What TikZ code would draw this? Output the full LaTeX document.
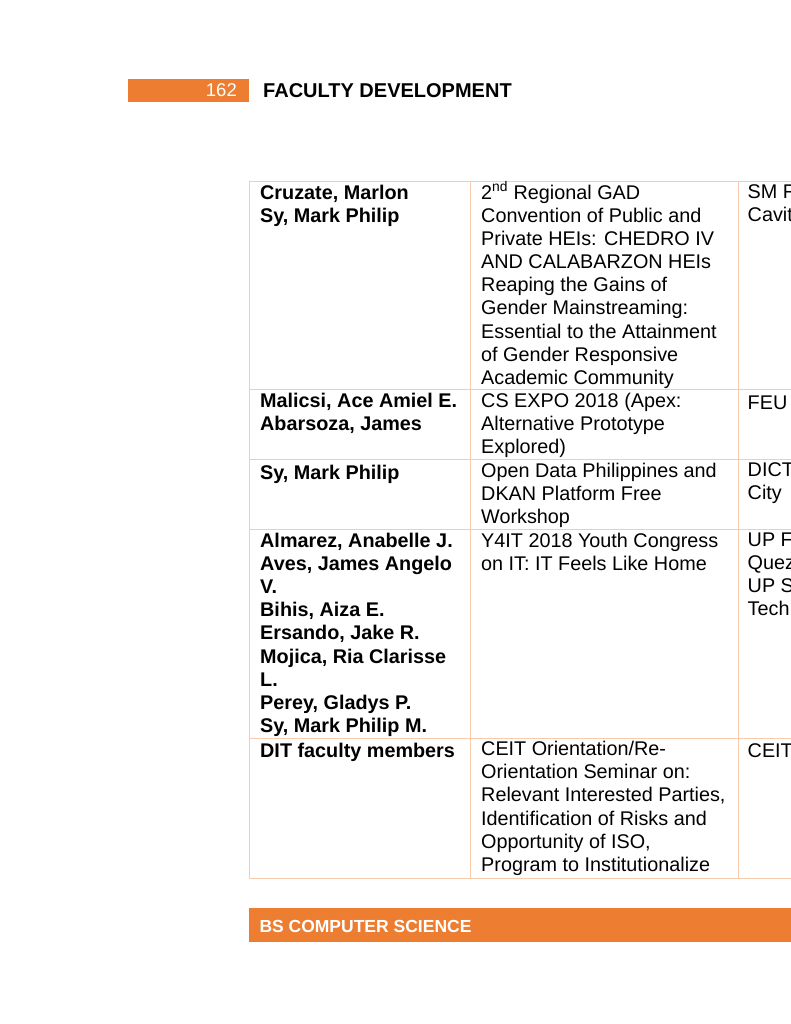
\documentclass[tikz,border=0pt]{standalone}
\usepackage{fontspec}
\setmainfont{Liberation Sans}
\definecolor{accent}{HTML}{ED7D31}
\definecolor{gridline}{HTML}{F8CBAD}

\begin{document}
\begin{tikzpicture}[x=1pt, y=-1pt,
	cell/.style={anchor=north west, inner sep=0pt, align=left,
		font=\fontsize{19.8}{23.15}\selectfont, execute at begin node=\strut},
	namecell/.style={cell, font=\fontsize{19.8}{23.15}\selectfont\bfseries},
	bartext/.style={text=white, inner sep=0pt}]
	\useasboundingbox (0,0) rectangle (791,1024);
	\clip (0,0) rectangle (791,1024);

	% page header
	\fill[accent] (128,79) rectangle (249,102);
	\node[bartext, anchor=base east, font=\fontsize{18.5}{22}\selectfont] (page) at (237,96.7) {162};
	\node[anchor=base west, inner sep=0pt, font=\fontsize{20}{24}\selectfont\bfseries] (title) at (263,97.3) {FACULTY DEVELOPMENT};

	% table grid
	\foreach \y in {181.3, 389.3, 459.3, 529.3, 737.7, 877.7}
		\draw[gridline] (249.3,\y) -- (800,\y);
	\foreach \x in {249.3, 470, 738}
		\draw[gridline] (\x,181.3) -- (\x,877.7);

	% rows
	\node[namecell] (r1name) at (260,184.7) {Cruzate, Marlon\\Sy, Mark Philip};
	\node[cell] (r1topic) at (481,184.7) {2\smash{\textsuperscript{nd}} Regional GAD\\Convention of Public and\\Private HEIs: CHEDRO IV\\AND CALABARZON HEIs\\Reaping the Gains of\\Gender Mainstreaming:\\Essential to the Attainment\\of Gender Responsive\\Academic Community};
	\node[cell] (r1venue) at (747.5,184.7) {SM F\\Cavit};

	\node[namecell] (r2name) at (260,392.7) {Malicsi, Ace Amiel E.\\Abarsoza, James};
	\node[cell] (r2topic) at (481,392.7) {CS EXPO 2018 (Apex:\\Alternative Prototype\\Explored)};
	\node[cell] (r2venue) at (747.5,392.7) {FEU};

	\node[namecell] (r3name) at (260,462.7) {Sy, Mark Philip};
	\node[cell] (r3topic) at (481,462.7) {Open Data Philippines and\\DKAN Platform Free\\Workshop};
	\node[cell] (r3venue) at (747.5,462.7) {DICT\\City};

	\node[namecell] (r4name) at (260,532.7) {Almarez, Anabelle J.\\Aves, James Angelo\\V.\\Bihis, Aiza E.\\Ersando, Jake R.\\Mojica, Ria Clarisse\\L.\\Perey, Gladys P.\\Sy, Mark Philip M.};
	\node[cell] (r4topic) at (481,532.7) {Y4IT 2018 Youth Congress\\on IT: IT Feels Like Home};
	\node[cell] (r4venue) at (747.5,532.7) {UP F\\Quez\\UP S\\Tech};

	\node[namecell] (r5name) at (260,741.1) {DIT faculty members};
	\node[cell] (r5topic) at (481,741.1) {CEIT Orientation/Re-\\Orientation Seminar on:\\Relevant Interested Parties,\\Identification of Risks and\\Opportunity of ISO,\\Program to Institutionalize};
	\node[cell] (r5venue) at (747.5,741.1) {CEIT};

	% section bar
	\fill[accent] (249.3,908.3) rectangle (800,942.3);
	\node[bartext, anchor=base west, font=\fontsize{17.5}{21}\selectfont\bfseries] (section) at (259.3,932) {BS COMPUTER SCIENCE};
\end{tikzpicture}
\end{document}
